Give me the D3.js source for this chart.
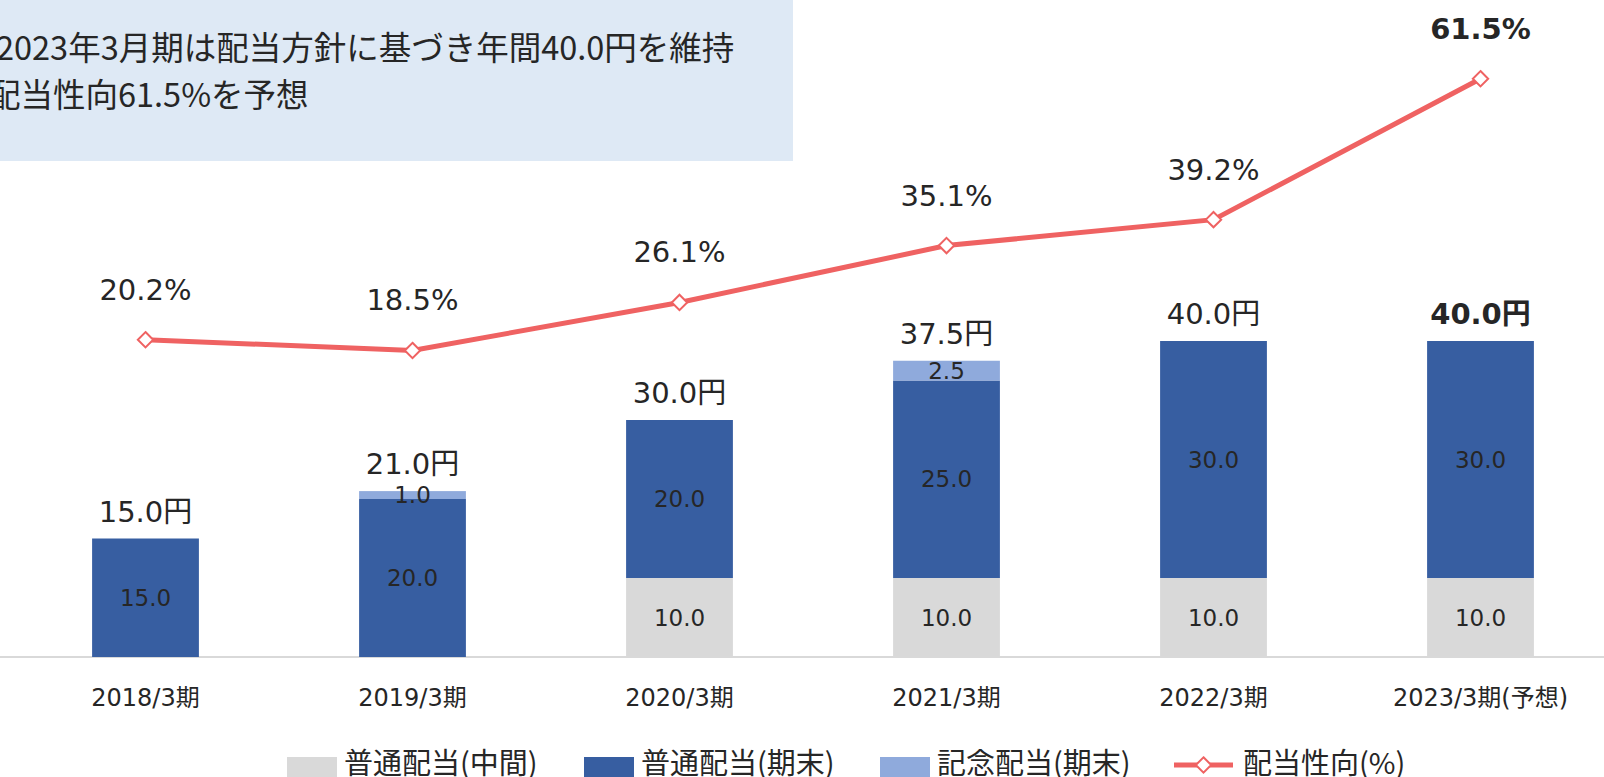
<!DOCTYPE html>
<html lang="ja">
<head>
<meta charset="utf-8">
<title>配当推移</title>
<script src="https://cdn.jsdelivr.net/npm/d3@7"></script>
<style>
	html, body { margin: 0; padding: 0; background: #fff; overflow: hidden; }
	#dividend-chart { display: block; width: 1604px; height: 777px; }
	.lbl { fill: #262626; font-family: "DejaVu Sans", "Noto Sans CJK JP", sans-serif; }
	.jp { fill: #262626; font-family: "Noto Sans CJK JP", sans-serif; }
</style>
</head>
<body>
<svg id="dividend-chart"></svg>
<script>
// chart data
var periods = ['2018/3期', '2019/3期', '2020/3期', '2021/3期', '2022/3期', '2023/3期(予想)'];
var interimDividend = [0, 0, 10, 10, 10, 10];
var yearEndDividend = [15, 20, 20, 25, 30, 30];
var commemorativeDividend = [0, 1, 0, 2.5, 0, 0];
var totalLabels = ['15.0円', '21.0円', '30.0円', '37.5円', '40.0円', '40.0円'];
var payoutRatio = [20.2, 18.5, 26.1, 35.1, 39.2, 61.5];
var seriesNames = ['普通配当(中間)', '普通配当(期末)', '記念配当(期末)', '配当性向(%)'];
var noteLines = ['2023年3月期は配当方針に基づき年間40.0円を維持', '配当性向61.5%を予想'];

window.app = window.app || {};

window.app.dividendChart = (function() {

	'use strict';

	var svg,
		sgWidth = 1604,
		sgHeight = 777,
		sgXScale,
		sgYScale,
		sgRatioScale,
		sgStacked,
		colors = ['#d9d9d9', '#375ea1', '#8faadc'],
		lineColor = '#ef6262';


	/**
	* build the stacked data rows
	* @returns {undefined}
	*/
	var initData = function() {
		var rows = periods.map(function(p, i) {
			return {period: p, interim: interimDividend[i], yearEnd: yearEndDividend[i], memo: commemorativeDividend[i]};
		});
		sgStacked = d3.stack().keys(['interim', 'yearEnd', 'memo'])(rows);
	};


	/**
	* scales
	* @returns {undefined}
	*/
	var initScales = function() {
		sgXScale = d3.scaleBand()
			.domain(periods)
			.range([12, 1614])
			.paddingInner(0.6)
			.paddingOuter(0.3);

		sgYScale = d3.scaleLinear()
			.domain([0, 80])
			.range([657, 25]);

		// secondary axis for payout ratio
		sgRatioScale = d3.scaleLinear()
			.domain([-30, 70])
			.range([657, 25]);
	};


	/**
	* note box top-left
	* @returns {undefined}
	*/
	var drawNote = function() {
		svg.append('rect')
			.attr('x', 0).attr('y', 0)
			.attr('width', 793).attr('height', 161)
			.attr('fill', '#dee9f5');

		svg.selectAll('.note')
			.data(noteLines)
			.enter()
			.append('text')
			.attr('class', 'jp note')
			.attr('x', function(d, i) { return i === 0 ? -4 : -12; })
			.attr('y', function(d, i) { return 45 + i * 47; })
			.attr('dominant-baseline', 'central')
			.style('font-size', '32.5px')
			.text(function(d) { return d; });
	};


	/**
	* x axis
	* @returns {undefined}
	*/
	var createAxes = function() {
		svg.append('line')
			.attr('x1', 0).attr('x2', sgWidth)
			.attr('y1', sgYScale(0)).attr('y2', sgYScale(0))
			.attr('stroke', '#d9d9d9')
			.attr('stroke-width', 2);

		var axis = svg.append('g')
			.attr('transform', 'translate(0,' + sgYScale(0) + ')')
			.call(d3.axisBottom(sgXScale).tickSize(0).tickPadding(0));

		axis.select('.domain').remove();
		axis.selectAll('text')
			.attr('class', 'lbl')
			.attr('y', 41)
			.attr('dy', null)
			.attr('dominant-baseline', 'central')
			.style('font-size', '24px')
			.style('font-family', null);
	};


	/**
	* stacked bars with value labels
	* @returns {undefined}
	*/
	var drawBars = function() {
		var layers = svg.selectAll('.layer')
			.data(sgStacked)
			.enter()
			.append('g')
			.attr('class', 'layer')
			.attr('fill', function(d, i) { return colors[i]; });

		layers.selectAll('rect')
			.data(function(d) { return d; })
			.enter()
			.filter(function(d) { return d[1] - d[0] > 0; })
			.append('rect')
			.attr('x', function(d) { return sgXScale(d.data.period); })
			.attr('width', sgXScale.bandwidth())
			.attr('y', function(d) { return sgYScale(d[1]); })
			.attr('height', function(d) { return sgYScale(d[0]) - sgYScale(d[1]); });

		layers.selectAll('text')
			.data(function(d) { return d; })
			.enter()
			.filter(function(d) { return d[1] - d[0] > 0; })
			.append('text')
			.attr('class', 'lbl')
			.attr('x', function(d) { return sgXScale(d.data.period) + sgXScale.bandwidth() / 2; })
			.attr('y', function(d) { return sgYScale((d[0] + d[1]) / 2); })
			.attr('text-anchor', 'middle')
			.attr('dominant-baseline', 'central')
			.style('font-size', '23px')
			.text(function(d) { return d3.format('.1f')(d[1] - d[0]); });

		// totals above
		var top = sgStacked[sgStacked.length - 1];
		svg.selectAll('.total')
			.data(top)
			.enter()
			.append('text')
			.attr('class', 'lbl total')
			.attr('x', function(d) { return sgXScale(d.data.period) + sgXScale.bandwidth() / 2; })
			.attr('y', function(d) { return sgYScale(d[1]) - 27; })
			.attr('text-anchor', 'middle')
			.attr('dominant-baseline', 'central')
			.style('font-size', '29px')
			.style('font-weight', function(d, i) { return i === top.length - 1 ? 'bold' : null; })
			.text(function(d, i) { return totalLabels[i]; });
	};


	/**
	* payout ratio line with markers
	* @returns {undefined}
	*/
	var drawLine = function() {
		var cx = function(d, i) { return sgXScale(periods[i]) + sgXScale.bandwidth() / 2; };
		var line = d3.line()
			.x(cx)
			.y(function(d) { return sgRatioScale(d); });

		svg.append('path')
			.datum(payoutRatio)
			.attr('fill', 'none')
			.attr('stroke', lineColor)
			.attr('stroke-width', 5)
			.attr('d', line);

		svg.selectAll('.marker')
			.data(payoutRatio)
			.enter()
			.append('path')
			.attr('class', 'marker')
			.attr('d', d3.symbol().type(d3.symbolDiamond2).size(150))
			.attr('transform', function(d, i) { return 'translate(' + cx(d, i) + ',' + sgRatioScale(d) + ')'; })
			.attr('fill', '#fff')
			.attr('stroke', lineColor)
			.attr('stroke-width', 2);

		svg.selectAll('.ratio')
			.data(payoutRatio)
			.enter()
			.append('text')
			.attr('class', 'lbl ratio')
			.attr('x', cx)
			.attr('y', function(d) { return sgRatioScale(d) - 50; })
			.attr('text-anchor', 'middle')
			.attr('dominant-baseline', 'central')
			.style('font-size', '29px')
			.style('font-weight', function(d, i) { return i === payoutRatio.length - 1 ? 'bold' : null; })
			.text(function(d) { return d3.format('.1f')(d) + '%'; });
	};


	/**
	* legend along the bottom
	* @returns {undefined}
	*/
	var drawLegend = function() {
		var legendX = [287, 584, 880, 1174],
			items = svg.selectAll('.legend')
				.data(seriesNames)
				.enter()
				.append('g')
				.attr('class', 'legend')
				.attr('transform', function(d, i) { return 'translate(' + legendX[i] + ',0)'; });

		items.filter(function(d, i) { return i < 3; })
			.append('rect')
			.attr('x', 0).attr('y', 757)
			.attr('width', 50).attr('height', 22)
			.attr('fill', function(d, i) { return colors[i]; });

		var lineItem = items.filter(function(d, i) { return i === 3; });
		lineItem.append('line')
			.attr('x1', 0).attr('x2', 59)
			.attr('y1', 765).attr('y2', 765)
			.attr('stroke', lineColor)
			.attr('stroke-width', 5);
		lineItem.append('path')
			.attr('d', d3.symbol().type(d3.symbolDiamond2).size(150))
			.attr('transform', 'translate(29.5,765)')
			.attr('fill', '#fff')
			.attr('stroke', lineColor)
			.attr('stroke-width', 2);

		items.append('text')
			.attr('class', 'jp')
			.attr('x', function(d, i) { return i === 3 ? 69 : 57; })
			.attr('y', 761)
			.attr('dominant-baseline', 'central')
			.style('font-size', '29px')
			.text(function(d) { return d; });
	};


	/**
	* initialize the chart
	* @returns {undefined}
	*/
	var init = function() {
		svg = d3.select('#dividend-chart')
			.attr('width', sgWidth)
			.attr('height', sgHeight);

		initData();
		initScales();
		drawNote();
		createAxes();
		drawBars();
		drawLine();
		drawLegend();
	};

	return {
		init: init
	};

})();

window.app.dividendChart.init();
</script>
</body>
</html>
